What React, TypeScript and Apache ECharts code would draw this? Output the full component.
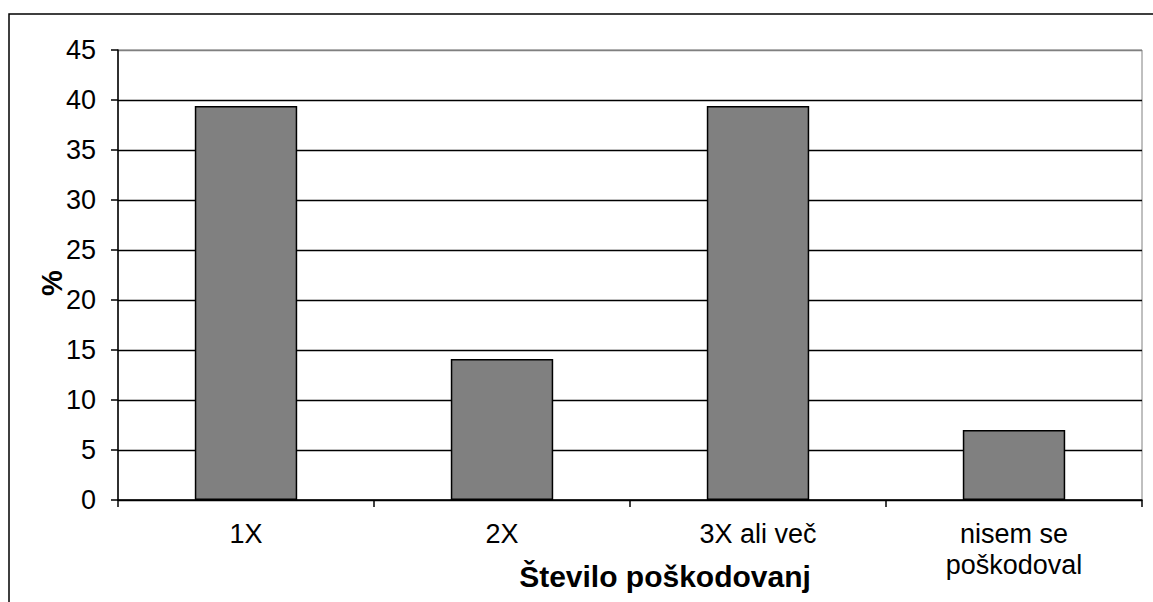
import React, { useEffect, useRef } from "react";
import * as echarts from "echarts";

// Delež anketirancev po številu poškodovanj
const categories: string[] = ["1X", "2X", "3X ali več", "nisem se\npoškodoval"];
const percentValues: number[] = [39.4, 14.1, 39.4, 7.0];
const yTicks = { min: 0, max: 45, interval: 5 };
const yAxisTitle = "%";
const xAxisTitle = "Število poškodovanj";

const FONT = "'Liberation Sans', Arial, sans-serif";

export default function App() {
  const ref = useRef<HTMLDivElement>(null);

  useEffect(() => {
    document.body.style.margin = "0";
    if (!ref.current) return;
    const chart = echarts.init(ref.current, undefined, { renderer: "svg" });

    // split lines are black, the topmost one is part of the grey plot border
    const lineCount = (yTicks.max - yTicks.min) / yTicks.interval + 1;
    const gridColors: string[] = [];
    for (let i = 0; i < lineCount; i++) {
      gridColors.push(i === lineCount - 1 ? "#808080" : "#000000");
    }

    chart.setOption({
      animation: false,
      backgroundColor: "#ffffff",
      textStyle: { fontFamily: FONT, color: "#000" },
      grid: {
        left: 118,
        right: 11,
        top: 50,
        bottom: 102,
        show: true,
        borderColor: "#808080",
        borderWidth: 1,
        backgroundColor: "transparent",
      },
      xAxis: {
        type: "category",
        data: categories,
        boundaryGap: true,
        axisLine: { show: true, lineStyle: { color: "#000", width: 1.5 } },
        axisTick: { show: true, inside: false, length: 7, alignWithLabel: false, lineStyle: { color: "#000", width: 1.5 } },
        axisLabel: {
          color: "#000",
          fontFamily: FONT,
          fontSize: 27,
          lineHeight: 31,
          margin: 18,
          interval: 0,
        },
        splitLine: { show: false },
      },
      yAxis: {
        type: "value",
        min: yTicks.min,
        max: yTicks.max,
        interval: yTicks.interval,
        name: yAxisTitle,
        nameLocation: "middle",
        nameGap: 52,
        nameRotate: 90,
        nameMoveOverlap: false,
        nameTextStyle: {
          color: "#000",
          fontFamily: FONT,
          fontSize: 29,
          fontWeight: "bold",
          padding: [0, 16, 0, 0],
        },
        axisLine: { show: true, lineStyle: { color: "#000", width: 1.5 } },
        axisTick: { show: true, inside: false, length: 7, lineStyle: { color: "#000", width: 1.5 } },
        axisLabel: { color: "#000", fontFamily: FONT, fontSize: 27, margin: 22 },
        splitLine: { show: true, lineStyle: { color: gridColors, width: 1.3 } },
      },
      series: [
        {
          type: "bar",
          data: percentValues,
          barWidth: "40%",
          itemStyle: { color: "#808080", borderColor: "#000", borderWidth: 1.5 },
        },
      ],
      graphic: [
        {
          type: "rect",
          shape: { x: 9, y: 14, width: 1170, height: 620 },
          style: { fill: "none", stroke: "#000", lineWidth: 1.5 },
          silent: true,
        },
        {
          type: "text",
          x: 665,
          y: 591,
          style: {
            text: xAxisTitle,
            fill: "#000",
            font: `bold 30px ${FONT}`,
            textAlign: "center",
            textVerticalAlign: "bottom",
          },
        },
      ],
    });

    return () => chart.dispose();
  }, []);

  return <div ref={ref} style={{ position: "absolute", left: 0, top: 0, width: 1153, height: 602 }} />;
}
